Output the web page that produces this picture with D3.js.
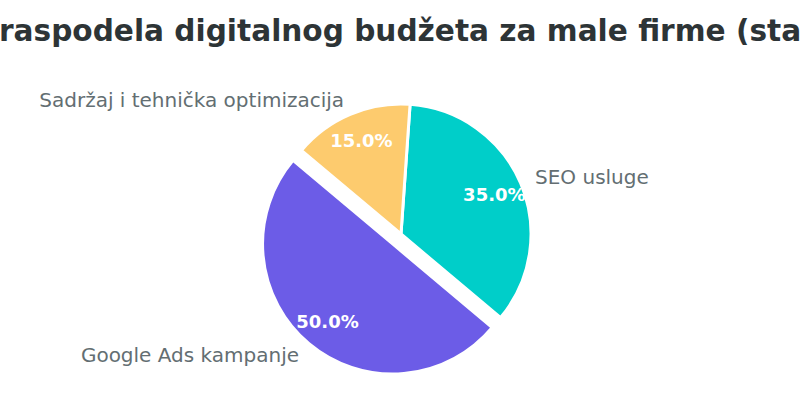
<!DOCTYPE html>
<html>
<head>
<meta charset="utf-8">
<script src="https://cdn.jsdelivr.net/npm/d3@7"></script>
<style>
  body { margin: 0; background: #fff; }
  svg { display: block; font-family: "DejaVu Sans", sans-serif; }
</style>
</head>
<body>
<svg id="chart" width="800" height="420"></svg>
<script>
// chart data
const categories = ["Google Ads kampanje", "SEO usluge", "Sadržaj i tehnička optimizacija"];
const shares = [50, 35, 15];
const colors = ["#6c5ce7", "#00cec9", "#fdcb6e"];
const explode = [0.1, 0, 0];
const titleText = "Preraspodela digitalnog budžeta za male firme (startup)";
const titleHidden = "Pre"; // part cut off on the left in the picture

const width = 800, height = 420;
const cx = 401, cy = 234, radius = 130;
const deg = Math.PI / 180;

const svg = d3.select("#chart");

// title, clipped at both sides like in the original
const title = svg.append("text")
  .attr("y", 41)
  .attr("fill", "#2d3436")
  .style("font-size", "29.6px")
  .style("font-weight", "bold")
  .text(titleText);
const hiddenW = title.node().getSubStringLength(0, titleHidden.length);
title.attr("x", -hiddenW - 1);

// matplotlib style: start at 140deg, counterclockwise
const start = (90 - 140) * deg;
const pie = d3.pie()
  .sort(null)
  .startAngle(start)
  .endAngle(start - 2 * Math.PI)
  .value(d => d);

const arc = d3.arc().innerRadius(0).outerRadius(radius);
const arcs = pie(shares);

const g = svg.append("g").attr("transform", "translate(" + cx + "," + cy + ")");

function offset(d, dist) {
  const mid = (d.startAngle + d.endAngle) / 2;
  return [Math.sin(mid) * dist, -Math.cos(mid) * dist];
}

const slice = g.selectAll(".slice")
  .data(arcs)
  .enter().append("g")
  .attr("class", "slice")
  .attr("transform", (d, i) => "translate(" + offset(d, explode[i] * radius) + ")");

slice.append("path")
  .attr("d", arc)
  .attr("fill", (d, i) => colors[i])
  .attr("stroke", "#fff")
  .attr("stroke-width", 3)
  .attr("stroke-linejoin", "round");

// category labels
slice.append("text")
  .attr("transform", d => "translate(" + offset(d, radius * 1.12) + ")")
  .attr("text-anchor", d => offset(d, 1)[0] > 0 ? "start" : "end")
  .attr("dominant-baseline", "central")
  .attr("fill", "#636e72")
  .style("font-size", "20px")
  .text((d, i) => categories[i]);

// percentage labels
slice.append("text")
  .attr("transform", d => "translate(" + offset(d, radius * 0.78) + ")")
  .attr("text-anchor", "middle")
  .attr("dominant-baseline", "central")
  .attr("fill", "#fff")
  .style("font-size", "18px")
  .style("font-weight", "bold")
  .text(d => d.data.toFixed(1) + "%");
</script>
</body>
</html>
